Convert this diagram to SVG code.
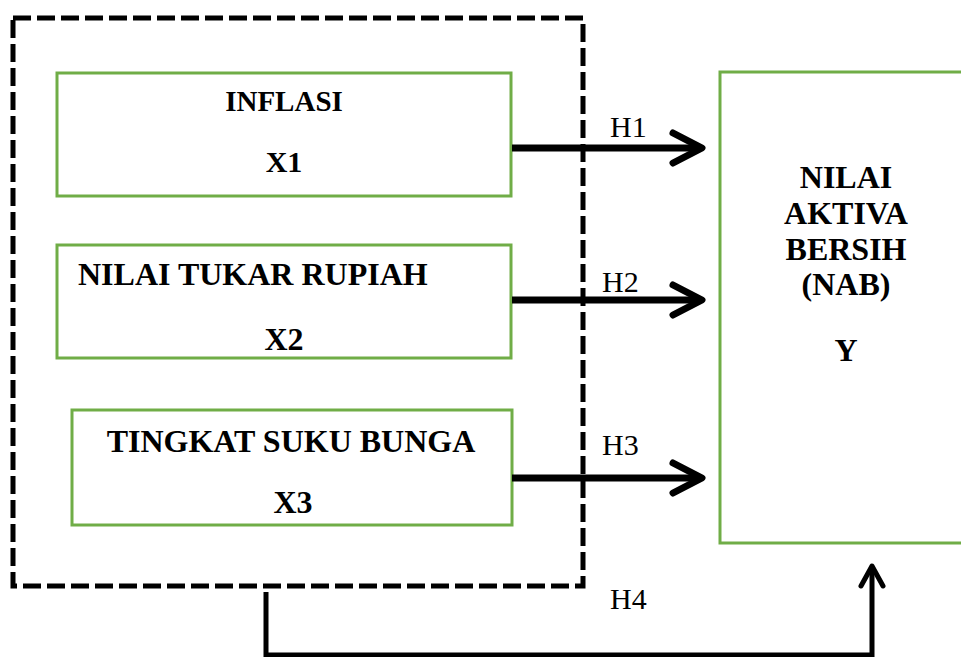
<svg xmlns="http://www.w3.org/2000/svg" width="961" height="657" viewBox="0 0 961 657">
<style>
.box{fill:#fff;stroke:#70ad47;stroke-width:3}
.t{font-family:'Liberation Serif','DejaVu Serif',serif;font-weight:bold;font-size:32px;fill:#000;text-anchor:middle}
.h{font-family:'Liberation Serif','DejaVu Serif',serif;font-size:30px;fill:#000}
.arr{stroke:#000;stroke-width:7;fill:none}
.head{stroke:#000;stroke-width:7;fill:none;stroke-linecap:round;stroke-linejoin:round}
</style>
<rect width="961" height="657" fill="#fff"/>
<g id="group">
<rect x="13" y="18" width="570" height="568" fill="none" stroke="#000" stroke-width="5" stroke-dasharray="18 6"/>
</g>
<g id="x1" font-family="Liberation Serif, serif">
<rect class="box" x="57" y="73" width="454" height="123"/>
<text class="t" x="284" y="111" style="font-size:29px">INFLASI</text>
<text class="t" x="284" y="172" style="font-size:30px">X1</text>
</g>
<g id="x2" font-family="Liberation Serif, serif">
<rect class="box" x="57" y="245" width="454" height="113"/>
<text class="t" x="78" y="285" style="text-anchor:start">NILAI TUKAR RUPIAH</text>
<text class="t" x="284" y="350">X2</text>
</g>
<g id="x3" font-family="Liberation Serif, serif">
<rect class="box" x="72" y="410" width="440" height="115"/>
<text class="t" x="291" y="452">TINGKAT SUKU BUNGA</text>
<text class="t" x="293" y="513">X3</text>
</g>
<g id="y" font-family="Liberation Serif, serif">
<rect class="box" x="720" y="72" width="250" height="471"/>
<text class="t" x="846" y="188">NILAI</text>
<text class="t" x="846" y="224">AKTIVA</text>
<text class="t" x="846" y="260">BERSIH</text>
<text class="t" x="846" y="295">(NAB)</text>
<text class="t" x="846" y="361">Y</text>
</g>
<g id="connectors" font-family="Liberation Serif, serif">
<line class="arr" x1="512" y1="148" x2="700" y2="148"/>
<polyline class="head" points="673,133 702,148 673,163"/>
<line class="arr" x1="512" y1="300" x2="700" y2="300"/>
<polyline class="head" points="673,285 702,300 673,315"/>
<line class="arr" x1="512" y1="478" x2="700" y2="478"/>
<polyline class="head" points="673,463 702,478 673,493"/>
<polyline points="266,592 266,655 872,655 872,567" fill="none" stroke="#000" stroke-width="5"/>
<polyline points="861,586 872,566 883,586" fill="none" stroke="#000" stroke-width="5" stroke-linejoin="round" stroke-linecap="round"/>
<text class="h" x="610" y="137">H1</text>
<text class="h" x="602" y="292">H2</text>
<text class="h" x="602" y="455">H3</text>
<text class="h" x="610" y="609">H4</text>
</g>
</svg>
